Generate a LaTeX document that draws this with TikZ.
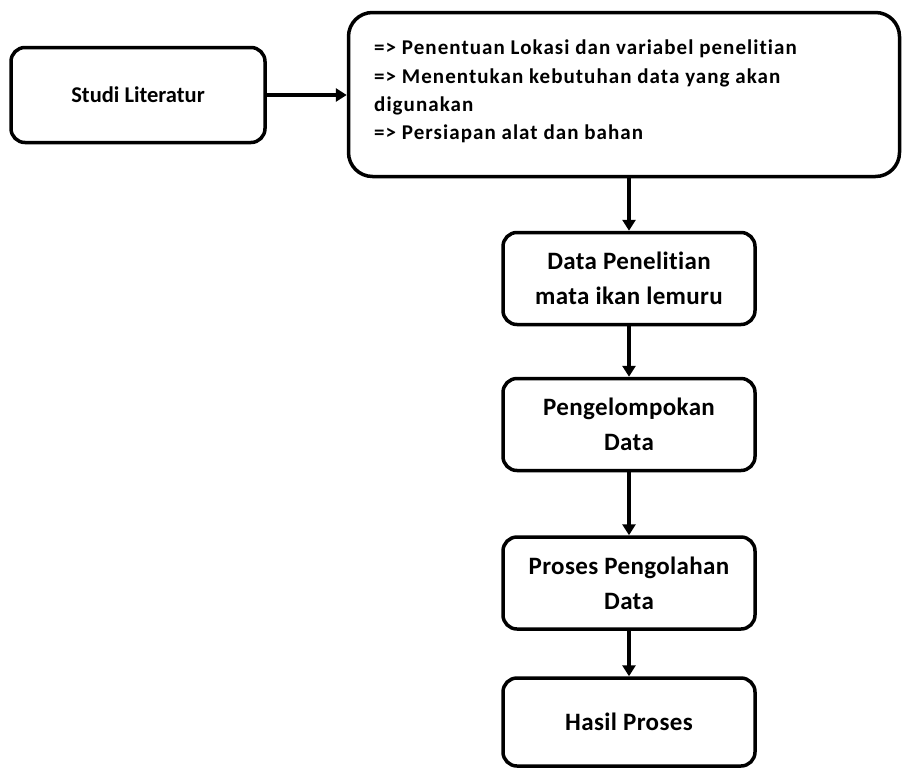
\documentclass[tikz,border=0pt]{standalone}
\usepackage{fontspec}
\setmainfont{Carlito}[Ligatures=NoCommon]
\newfontfamily\spacedfont{Carlito}[LetterSpace=1.5,Ligatures=NoCommon]
\newfontfamily\widefont{Carlito}[LetterSpace=5,Ligatures=NoCommon]
\usetikzlibrary{arrows.meta}
\tikzset{
  box/.style={draw=black, line width=3.5pt, rounded corners=14pt, minimum width=252pt, minimum height=92pt, inner sep=0pt, align=center, font=\spacedfont\fontsize{25}{35}\selectfont\bfseries},
  conn/.style={line width=3.5pt, -{Triangle[width=13pt,length=11pt]}}
}
\begin{document}
\begin{tikzpicture}[x=1pt,y=-1pt]
\useasboundingbox (0,0) rectangle (902,769);
\node[box, minimum width=254pt, minimum height=95pt, font=\fontsize{22.5}{27}\selectfont\bfseries] (studi) at (138,95) {Studi Literatur};
\node[draw=black, line width=3.5pt, rounded corners=24pt, minimum width=551pt, minimum height=164pt, inner sep=0pt] (big) at (624,94.5) {};
\node[anchor=north west, align=left, inner sep=0pt, font=\widefont\fontsize{21}{28.3}\selectfont\bfseries] (bigtxt) at (374,40) {=> Penentuan Lokasi dan variabel penelitian\\=> Menentukan kebutuhan data yang akan\\digunakan\\=> Persiapan alat dan bahan};
\node[box] (data) at (629,278.5) {Data Penelitian\\mata ikan lemuru};
\node[box] (peng) at (629,424.5) {Pengelompokan\\Data};
\node[box] (proses) at (629,583) {Proses Pengolahan\\Data};
\node[box, minimum height=88pt] (hasil) at (629,722) {Hasil Proses};
\draw[conn] (studi.east) -- (big.west |- studi.east);
\draw[conn] (big.south -| data.north) -- (data.north);
\draw[conn] (data) -- (peng);
\draw[conn] (peng) -- (proses);
\draw[conn] (proses) -- (hasil);
\end{tikzpicture}
\end{document}
